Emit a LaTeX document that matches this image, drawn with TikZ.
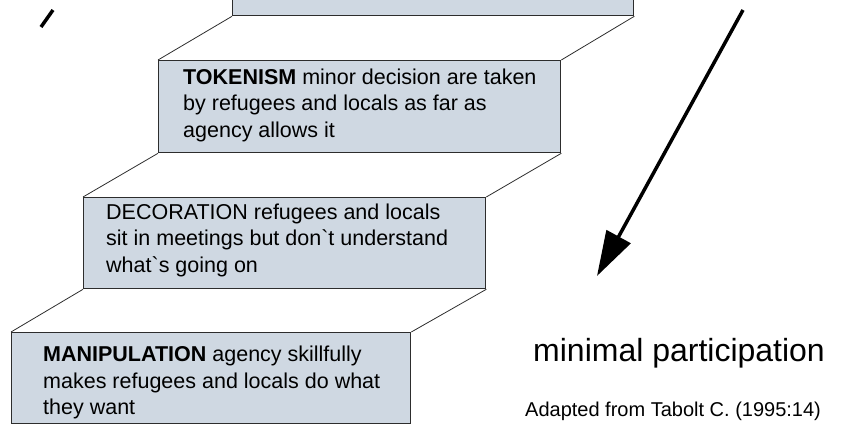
\documentclass[tikz,border=0pt]{standalone}
\usepackage{fontspec}
\setmainfont{Liberation Sans}
\usetikzlibrary{arrows.meta}
\definecolor{stepfill}{RGB}{207,216,226}
\definecolor{stepline}{RGB}{45,45,45}
\begin{document}
\begin{tikzpicture}[x=1pt,y=-1pt,
  stepbox/.style={draw=stepline, line width=1.3pt, fill=stepfill, inner sep=0pt, anchor=north west},
  riser/.style={draw=stepline, line width=0.8pt},
  boxtext/.style={anchor=base west, inner sep=0pt, font=\fontsize{21.5}{27}\selectfont},
  bigarrow/.style={line width=3.5pt, -{Triangle[length=45pt,width=27pt]}},
  stroke/.style={line width=3.5pt}
]
\useasboundingbox (0,0) rectangle (855,426);

% steps
\node[stepbox, minimum width=401pt, minimum height=35pt] (top) at (232,-20) {};
\node[stepbox, minimum width=402pt, minimum height=92pt] (tok) at (158,60) {};
\node[stepbox, minimum width=402pt, minimum height=91pt] (dec) at (83,197) {};
\node[stepbox, minimum width=399pt, minimum height=91pt] (man) at (11,332) {};

% risers
\draw[riser] (tok.north west) -- (top.south west);
\draw[riser] (tok.north east) -- (top.south east);
\draw[riser] (dec.north west) -- (tok.south west);
\draw[riser] (dec.north east) -- (tok.south east);
\draw[riser] (man.north west) -- (dec.south west);
\draw[riser] (man.north east) -- (dec.south east);

% texts in steps
\node[boxtext] (tok1) at (183,84) {\textbf{TOKENISM} minor decision are taken};
\node[boxtext] (tok2) at (183,110.5) {by refugees and locals as far as};
\node[boxtext] (tok3) at (183,137) {agency allows it};

\node[boxtext] (dec1) at (106,219) {DECORATION refugees and locals};
\node[boxtext] (dec2) at (106,245) {sit in meetings but don\textasciigrave t understand};
\node[boxtext] (dec3) at (106,272) {what\textasciigrave s going on};

\node[boxtext] (man1) at (43,361) {\textbf{MANIPULATION} agency skillfully};
\node[boxtext] (man2) at (43,388) {makes refugees and locals do what};
\node[boxtext] (man3) at (43,414) {they want};

% arrows
\coordinate (arrS) at (743,10);
\coordinate (arrE) at (597,276);
\draw[bigarrow] (arrS) -- (arrE);
\coordinate (strA) at (53,10);
\coordinate (strB) at (41,27);
\draw[stroke] (strA) -- (strB);

% labels
\node[anchor=base west, inner sep=0pt, font=\fontsize{32}{38}\selectfont] (minp) at (533,361) {minimal participation};
\node[anchor=base west, inner sep=0pt, font=\fontsize{20}{24}\selectfont] (src) at (525,416) {Adapted from Tabolt C. (1995:14)};
\end{tikzpicture}
\end{document}
